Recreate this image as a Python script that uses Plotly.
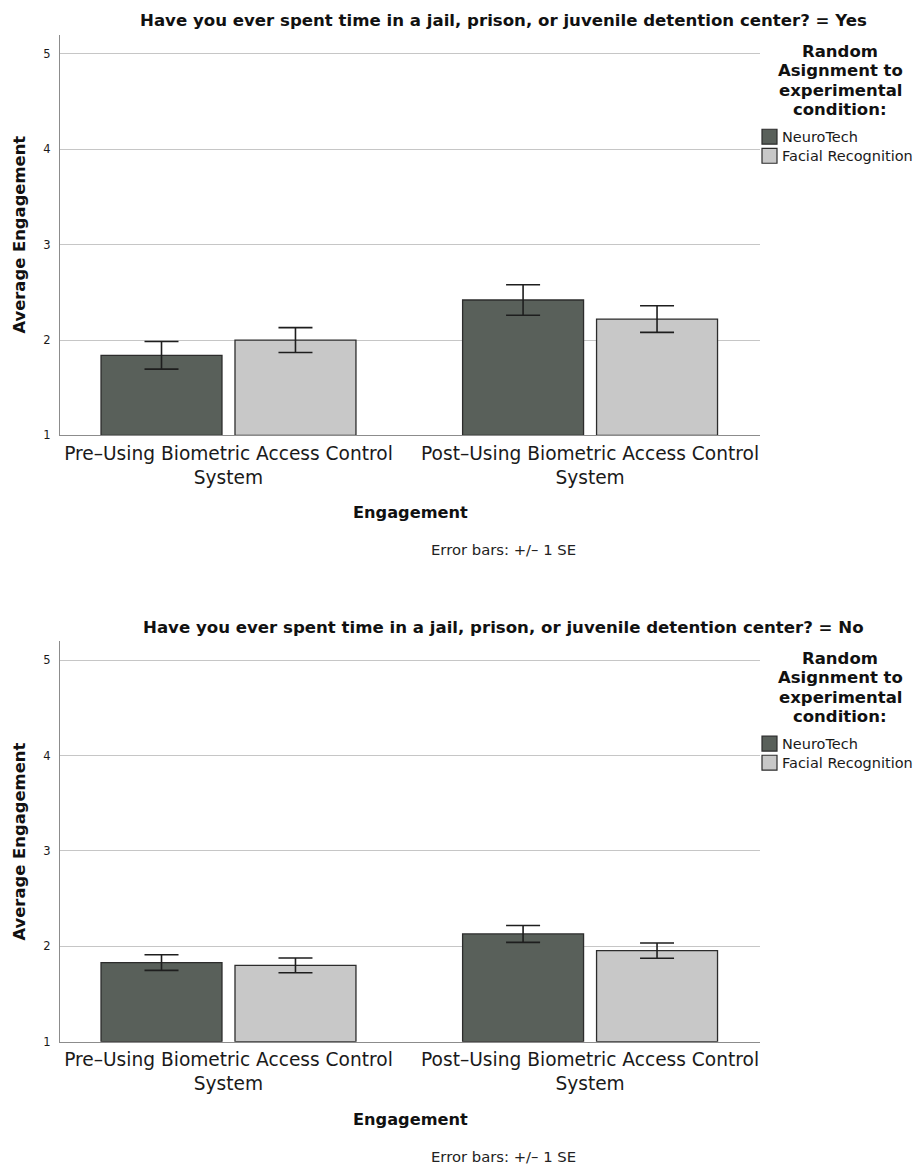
import plotly.graph_objects as go

# Window is 921x1166; page body has an 8px margin, so the figure is 913x1158
# and all reference pixel positions are shifted by 8px.
W, H = 913, 1158
OFF = 8

categories = ["Pre–Using Biometric Access Control<br>System",
              "Post–Using Biometric Access Control<br>System"]
groups = ["NeuroTech", "Facial Recognition"]

# Panel 1: "= Yes"
yes_neuro = [1.84, 2.42]
yes_neuro_se = [0.145, 0.16]
yes_facial = [2.00, 2.22]
yes_facial_se = [0.13, 0.14]

# Panel 2: "= No"
no_neuro = [1.83, 2.13]
no_neuro_se = [0.082, 0.088]
no_facial = [1.80, 1.955]
no_facial_se = [0.077, 0.08]

yticks = [1, 2, 3, 4, 5]

panel_titles = [
    "Have you ever spent time in a jail, prison, or juvenile detention center? = Yes",
    "Have you ever spent time in a jail, prison, or juvenile detention center? = No",
]
legend_title_lines = ["Random", "Asignment to", "experimental", "condition:"]

colors = {"NeuroTech": "#59605a", "Facial Recognition": "#c8c8c8"}
outline = "#2c2c2c"

FONT = "DejaVu Sans, Noto Sans, sans-serif"


def px_x(px):
    return (px - OFF) / W


def px_y(py):
    return 1 - (py - OFF) / H


fig = go.Figure()

panels = [
    (yes_neuro, yes_neuro_se, yes_facial, yes_facial_se, "x", "y"),
    (no_neuro, no_neuro_se, no_facial, no_facial_se, "x2", "y2"),
]

for (nv, nse, fv, fse, xa, ya) in panels:
    for name, vals, se in [("NeuroTech", nv, nse), ("Facial Recognition", fv, fse)]:
        fig.add_trace(go.Bar(
            x=categories, y=[v - 1 for v in vals], base=1, name=name,
            xaxis=xa, yaxis=ya, showlegend=False,
            marker=dict(color=colors[name], line=dict(color=outline, width=1.3)),
            error_y=dict(type="data", array=se, visible=True, color="#1e1e1e",
                         thickness=1.6, width=17),
            hovertemplate=name + ": %{customdata:.2f}<extra></extra>",
            customdata=vals,
        ))

plot_x0, plot_x1 = 60, 760
panel_px = [(35, 438), (645, 1048)]

axis_common_x = dict(
    type="category", range=[-0.466, 1.47], showgrid=False, zeroline=False,
    showline=True, linecolor="#8c8c8c", linewidth=1.2, ticks="",
    tickfont=dict(family=FONT, size=18.6, color="#1a1a1a"),
    domain=[px_x(plot_x0), px_x(plot_x1)],
    ticklabelstandoff=1,
)
axis_common_y = dict(
    range=[1, 5.2], tickvals=yticks, showgrid=True, gridcolor="#c6c6c6", gridwidth=1.2,
    zeroline=False, showline=True, linecolor="#8c8c8c", linewidth=1.2, ticks="",
    tickfont=dict(family=FONT, size=11.5, color="#1a1a1a"),
    ticklabelstandoff=6,
)

fig.update_layout(
    width=W, height=H, margin=dict(l=0, r=0, t=0, b=0),
    paper_bgcolor="white", plot_bgcolor="white",
    barmode="group", bargap=0.259, bargroupgap=0.097,
    xaxis=dict(axis_common_x, anchor="y"),
    yaxis=dict(axis_common_y, anchor="x",
               domain=[px_y(panel_px[0][1]), px_y(panel_px[0][0])]),
    xaxis2=dict(axis_common_x, anchor="y2"),
    yaxis2=dict(axis_common_y, anchor="x2",
                domain=[px_y(panel_px[1][1]), px_y(panel_px[1][0])]),
    showlegend=False,
)

annotations = []
shapes = []
panel_offsets = [0, 610.6]
for i, (top, bot) in enumerate(panel_px):
    d = panel_offsets[i]
    annotations.append(dict(
        text="<b>" + panel_titles[i] + "</b>", x=px_x(503), y=px_y(21 + d),
        xref="paper", yref="paper", showarrow=False, xanchor="center", yanchor="middle",
        font=dict(family=FONT, size=16.6, color="#111111"),
    ))
    # legend title lines
    for j, line in enumerate(legend_title_lines):
        annotations.append(dict(
            text="<b>" + line + "</b>", x=px_x(840), y=px_y(52 + d + j * 19.3),
            xref="paper", yref="paper", showarrow=False, xanchor="center", yanchor="middle",
            font=dict(family=FONT, size=16.5, color="#111111"),
        ))
    # legend items
    for j, name in enumerate(groups):
        cy = 137.5 + d + j * 19.2
        shapes.append(dict(
            type="rect", xref="paper", yref="paper",
            x0=px_x(762), x1=px_x(777), y0=px_y(cy + 7.5), y1=px_y(cy - 7.5),
            fillcolor=colors[name], line=dict(color=outline, width=1.2),
        ))
        annotations.append(dict(
            text=name, x=px_x(780), y=px_y(cy),
            xref="paper", yref="paper", showarrow=False, xanchor="left", yanchor="middle",
            font=dict(family=FONT, size=14.5, color="#1a1a1a"),
        ))
    annotations.append(dict(
        text="<b>Average Engagement</b>", x=px_x(20), y=px_y(236 + d),
        xref="paper", yref="paper", showarrow=False, textangle=-90,
        xanchor="center", yanchor="middle",
        font=dict(family=FONT, size=16.4, color="#111111"),
    ))
    annotations.append(dict(
        text="<b>Engagement</b>", x=px_x(410), y=px_y(516 + d),
        xref="paper", yref="paper", showarrow=False, xanchor="center", yanchor="middle",
        font=dict(family=FONT, size=16.2, color="#111111"),
    ))
    annotations.append(dict(
        text="Error bars: +/– 1 SE", x=px_x(503), y=px_y(553 + d),
        xref="paper", yref="paper", showarrow=False, xanchor="center", yanchor="middle",
        font=dict(family=FONT, size=14.8, color="#222222"),
    ))

fig.update_layout(annotations=annotations, shapes=shapes)

fig.write_html("out.html")
